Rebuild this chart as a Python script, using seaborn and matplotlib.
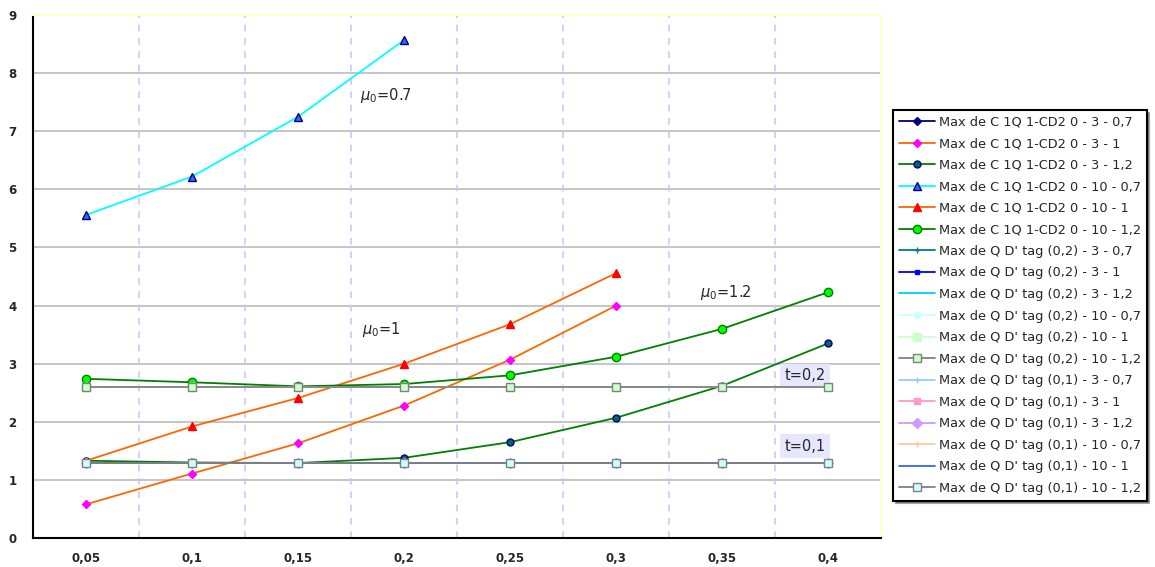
import numpy as np
import pandas as pd
import seaborn as sns
import matplotlib.pyplot as plt

# categories (t values on the x axis)
categories = ["0,05", "0,1", "0,15", "0,2", "0,25", "0,3", "0,35", "0,4"]

# C series
c_3_07 = []
c_3_1 = [0.58, 1.11, 1.63, 2.28, 3.07, 4.00]
c_3_12 = [1.33, 1.30, 1.29, 1.38, 1.65, 2.07, 2.62, 3.35]
c_10_07 = [5.56, 6.22, 7.25, 8.57]
c_10_1 = [1.33, 1.92, 2.41, 3.00, 3.68, 4.56]
c_10_12 = [2.74, 2.68, 2.61, 2.65, 2.80, 3.12, 3.60, 4.23]

# Q thresholds (constant)
q_02 = [2.60] * 8
q_01 = [1.29] * 8

labels = [
    "Max de C 1Q 1-CD2 0 - 3 - 0,7",
    "Max de C 1Q 1-CD2 0 - 3 - 1",
    "Max de C 1Q 1-CD2 0 - 3 - 1,2",
    "Max de C 1Q 1-CD2 0 - 10 - 0,7",
    "Max de C 1Q 1-CD2 0 - 10 - 1",
    "Max de C 1Q 1-CD2 0 - 10 - 1,2",
    "Max de Q D' tag (0,2) - 3 - 0,7",
    "Max de Q D' tag (0,2) - 3 - 1",
    "Max de Q D' tag (0,2) - 3 - 1,2",
    "Max de Q D' tag (0,2) - 10 - 0,7",
    "Max de Q D' tag (0,2) - 10 - 1",
    "Max de Q D' tag (0,2) - 10 - 1,2",
    "Max de Q D' tag (0,1) - 3 - 0,7",
    "Max de Q D' tag (0,1) - 3 - 1",
    "Max de Q D' tag (0,1) - 3 - 1,2",
    "Max de Q D' tag (0,1) - 10 - 0,7",
    "Max de Q D' tag (0,1) - 10 - 1",
    "Max de Q D' tag (0,1) - 10 - 1,2",
]
values = [c_3_07, c_3_1, c_3_12, c_10_07, c_10_1, c_10_12,
          q_02, q_02, q_02, q_02, q_02, q_02,
          q_01, q_01, q_01, q_01, q_01, q_01]

# (line colour, marker, face colour, edge colour, marker size)
styles = [
    ("#000080", "D", "#000080", "#000080", 4),
    ("#FF6600", "D", "#FF00FF", "#FF00FF", 4),
    ("#008000", "o", "#006666", "#000080", 5),
    ("#00FFFF", "^", "#3366FF", "#000080", 6),
    ("#FF6600", "^", "#FF0000", "#FF0000", 6),
    ("#008000", "o", "#00FF00", "#008000", 6),
    ("#008080", "+", "#008080", "#008080", 5),
    ("#0000FF", "s", "#0000FF", "#0000FF", 3),
    ("#00CCFF", None, "#00CCFF", "#00CCFF", 0),
    ("#CCFFFF", "D", "#CCFFFF", "#CCFFFF", 4),
    ("#CCFFCC", "s", "#CCFFCC", "#CCFFCC", 6),
    ("#808080", "s", "#CCFFCC", "#808080", 6),
    ("#99CCFF", "+", "#99CCFF", "#99CCFF", 5),
    ("#FF99CC", "s", "#FF99CC", "#FF99CC", 4),
    ("#CC99FF", "D", "#CC99FF", "#CC99FF", 5),
    ("#FFCC99", "+", "#FFCC99", "#FFCC99", 4),
    ("#3366FF", None, "#3366FF", "#3366FF", 0),
    ("#808080", "s", "#CCFFFF", "#808080", 6),
]

sns.set_style("white")
plt.rcParams["font.family"] = ["DejaVu Sans"]

fig = plt.figure(figsize=(11.55, 5.67), dpi=100)
ax = fig.add_axes([0.0286, 0.0511, 0.7344, 0.9224])

x_pos = np.arange(len(categories))
for i, (lab, vals) in enumerate(zip(labels, values)):
    col, mk, fc, ec, ms = styles[i]
    kw = dict(color=col, linewidth=1.3, marker=mk, markersize=ms,
              markerfacecolor=fc, markeredgecolor=ec, markeredgewidth=1,
              zorder=3 + i * 0.01)
    if len(vals) == 0:
        # series without any visible point: legend entry only
        ax.plot([], [], label=lab, **kw)
        continue
    df = pd.DataFrame({"t": x_pos[:len(vals)], "v": vals})
    sns.lineplot(data=df, x="t", y="v", ax=ax, label=lab, **kw)

ax.set_xlim(-0.5, len(categories) - 0.5)
ax.set_ylim(0, 9)
ax.set_xticks(x_pos)
ax.set_xticklabels(categories)
ax.set_xticks(np.arange(-0.5, len(categories)), minor=True)
ax.set_yticks(range(10))
ax.tick_params(axis="x", which="major", length=0, pad=10, labelsize=8.5)
ax.tick_params(axis="x", which="minor", length=4, width=1.2, direction="out")
ax.tick_params(axis="y", length=4, width=1.2, direction="out", pad=8, labelsize=8.5)
for lbl in ax.get_xticklabels() + ax.get_yticklabels():
    lbl.set_fontweight("bold")
ax.set_xlabel("")
ax.set_ylabel("")

# grid: solid grey horizontal, dashed lavender vertical at category edges
for yv in range(1, 9):
    ax.axhline(yv, color="#C0C0C0", linewidth=1.3, zorder=1)
for xv in np.arange(0.5, len(categories) - 0.5):
    ax.axvline(xv, color="#C8C8FF", linewidth=1.2, linestyle=(0, (4, 4)), zorder=1)

ax.spines["left"].set_color("black")
ax.spines["left"].set_linewidth(1.5)
ax.spines["bottom"].set_color("black")
ax.spines["bottom"].set_linewidth(1.5)
ax.spines["top"].set_color("#FFFFC8")
ax.spines["right"].set_color("#FFFFC8")
ax.spines["top"].set_linewidth(1.5)
ax.spines["right"].set_linewidth(1.5)

# annotations
white = dict(facecolor="white", edgecolor="none", pad=1)
ax.text(2.58, 7.62, r"$\mu_0$=0.7", fontsize=10.5, va="center", bbox=white, zorder=5)
ax.text(2.60, 3.58, r"$\mu_0$=1", fontsize=10.5, va="center", bbox=white, zorder=5)
ax.text(5.79, 4.22, r"$\mu_0$=1.2", fontsize=10.5, va="center", bbox=white, zorder=5)
box = dict(facecolor="#E6E6FF", edgecolor="none", pad=3)
ax.text(6.78, 2.80, "t=0,2", fontsize=10.5, ha="center", va="center", bbox=box, zorder=2)
ax.text(6.78, 1.58, "t=0,1", fontsize=10.5, ha="center", va="center", bbox=box, zorder=2)

leg = ax.legend(loc="upper left", bbox_to_anchor=(0.773, 0.806),
                bbox_transform=fig.transFigure, fontsize=9.3, frameon=True,
                fancybox=False, shadow=True, handlelength=2.8,
                labelspacing=0.66, borderpad=0.45, handletextpad=0.3,
                borderaxespad=0)
leg.get_frame().set_edgecolor("black")
leg.get_frame().set_linewidth(1.5)

plt.savefig("out.png", dpi=100)
